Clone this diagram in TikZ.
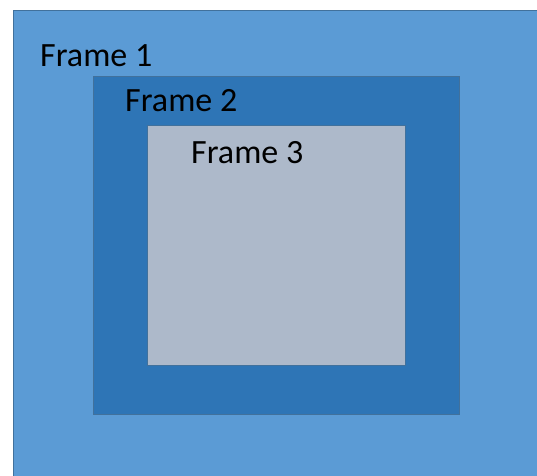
\documentclass[tikz,border=0pt]{standalone}
\usepackage{fontspec}
\setmainfont{Carlito}
\usetikzlibrary{positioning}
\definecolor{frameone}{RGB}{91,155,213}
\definecolor{frametwo}{RGB}{46,117,182}
\definecolor{framethree}{RGB}{173,185,202}
\definecolor{frameline}{RGB}{65,113,156}

\begin{document}
\begin{tikzpicture}[
  x=1pt, y=-1pt,
  frame/.style={draw=frameline, line width=0.9pt, rectangle, anchor=north west, inner sep=0pt},
  lbl/.style={font=\fontsize{34}{41}\selectfont, anchor=base west, inner sep=0pt},
]
\useasboundingbox (0,0) rectangle (537,475);
\clip (0,0) rectangle (537,475);
\node[frame, fill=frameone, minimum width=540pt, minimum height=480pt] (frame1) at (13,10) {};
\node[frame, fill=frametwo, minimum width=366pt, minimum height=338pt] (frame2) at (93,76) {};
\node[frame, fill=framethree, minimum width=258pt, minimum height=240pt] (frame3) at (147,125) {};
\node[lbl] (lbl1) at (40,66) {Frame 1};
\node[lbl] (lbl2) at (125,111) {Frame 2};
\node[lbl] (lbl3) at (191,163) {Frame 3};
\end{tikzpicture}
\end{document}
